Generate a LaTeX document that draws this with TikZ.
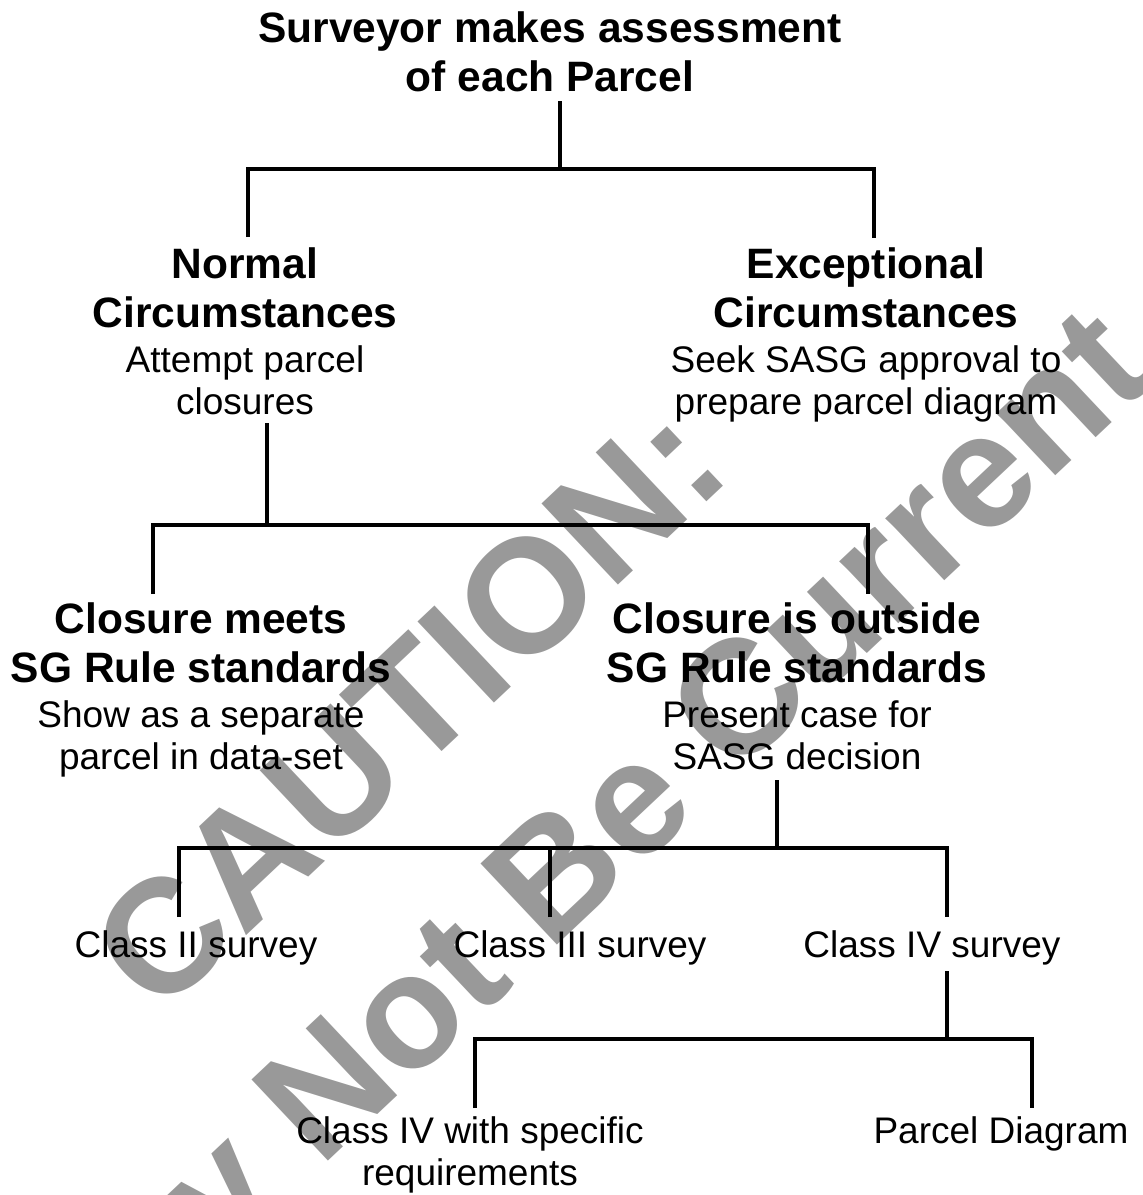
\documentclass[tikz,border=0pt]{standalone}
\usepackage{fontspec}
\setmainfont{Liberation Sans}
\usetikzlibrary{calc}
\setlength{\parindent}{0pt}
% type sizes for headings and plain lines; word spaces come from the font itself
\newcommand{\headfont}{\bfseries\fontsize{42.5}{49.5}\selectfont\spaceskip=0pt\xspaceskip=0pt\relax}
\newcommand{\bodyfont}{\fontsize{37}{42}\selectfont\spaceskip=0pt\xspaceskip=0pt\relax}
\newcommand{\gapline}{\vskip2.5pt}
\begin{document}
\begin{tikzpicture}[x=1pt,y=1pt,
  block/.style={anchor=base, inner sep=0pt, outer sep=0pt, text width=620pt,
    execute at begin node=\centering},
  link/.style={line width=4.5pt, line join=miter, black},
  stamp/.style={anchor=base, inner sep=0pt, rotate=43.3, text=black!40,
    font=\bfseries\fontsize{162}{200}\selectfont}]
\useasboundingbox (0,0) rectangle (1143,-1195);

% background stamp
\begin{scope}
  \clip (0,0) rectangle (1143,-1195);
  \node[stamp] (wm1) at (447,-747) {CAUTION:};
  \node[stamp] (wm2) at (609,-897) {May Not Be Current};
\end{scope}

% text blocks (placed at the baseline of their first line)
\node[block] (top) at (550,-42) {\headfont Surveyor makes assessment\\of each Parcel\par};
\node[block] (normal) at (245,-278) {{\headfont Normal\\Circumstances\par}\gapline{\bodyfont Attempt parcel\\closures\par}};
\node[block] (except) at (866,-278) {{\headfont Exceptional\\Circumstances\par}\gapline{\bodyfont Seek SASG approval to\\prepare parcel diagram\par}};
\node[block] (meets) at (201,-633) {{\headfont Closure meets\\SG Rule standards\par}\gapline{\bodyfont Show as a separate\\parcel in data-set\par}};
\node[block] (outside) at (797,-633) {{\headfont Closure is outside\\SG Rule standards\par}\gapline{\bodyfont Present case for\\SASG decision\par}};
\node[block] (c2) at (196,-957) {\bodyfont Class II survey\par};
\node[block] (c3) at (580,-957) {\bodyfont Class III survey\par};
\node[block] (c4) at (932,-957) {\bodyfont Class IV survey\par};
\node[block] (c4s) at (470,-1143) {\bodyfont Class IV with specific\\requirements\par};
\node[block] (pd) at (1001,-1143) {\bodyfont Parcel Diagram\par};

% connector ends, tied to their blocks
\coordinate (top-out) at ([shift={(10pt,-59pt)}]top.base);
\coordinate (normal-in) at ([shift={(3pt,41pt)}]normal.base);
\coordinate (except-in) at ([shift={(8pt,40pt)}]except.base);
\coordinate (bus1) at ([yshift=-68pt]top-out);

\coordinate (normal-out) at ([shift={(22pt,-145pt)}]normal.base);
\coordinate (meets-in) at ([shift={(-48pt,39pt)}]meets.base);
\coordinate (outside-in) at ([shift={(71pt,39pt)}]outside.base);
\coordinate (bus2) at ([yshift=-102pt]normal-out);

\coordinate (outside-out) at ([shift={(-20pt,-147pt)}]outside.base);
\coordinate (c2-in) at ([shift={(-17pt,40pt)}]c2.base);
\coordinate (c3-in) at ([shift={(-30pt,40pt)}]c3.base);
\coordinate (c4-in) at ([shift={(15pt,40pt)}]c4.base);
\coordinate (bus3) at ([yshift=-68pt]outside-out);

\coordinate (c4-out) at ([shift={(15pt,-14pt)}]c4.base);
\coordinate (c4s-in) at ([shift={(5pt,35pt)}]c4s.base);
\coordinate (pd-in) at ([shift={(31pt,35pt)}]pd.base);
\coordinate (bus4) at ([yshift=-68pt]c4-out);

% tree connectors
\draw[link] (top-out) -- (bus1);
\draw[link] (normal-in) |- (bus1) -| (except-in);

\draw[link] (normal-out) -- (bus2);
\draw[link] (meets-in) |- (bus2) -| (outside-in);

\draw[link] (outside-out) -- (bus3);
\draw[link] (c2-in) |- (bus3) -| (c4-in);
\draw[link] (c3-in) -- (c3-in |- bus3);

\draw[link] (c4-out) -- (bus4);
\draw[link] (c4s-in) |- (bus4) -| (pd-in);
\end{tikzpicture}
\end{document}
